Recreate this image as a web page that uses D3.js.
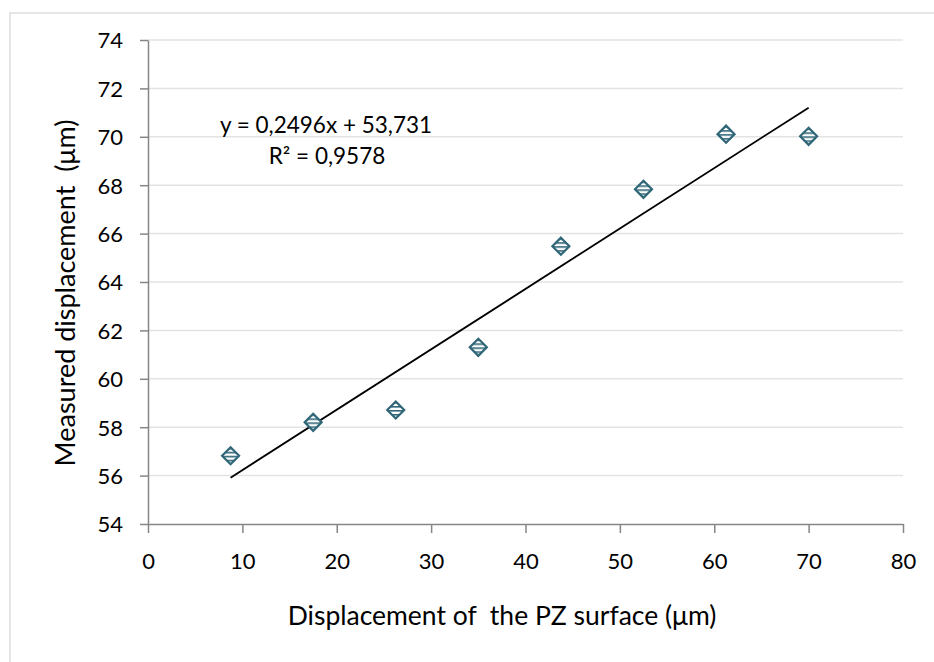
<!DOCTYPE html>
<html>
<head>
<meta charset="utf-8">
<script src="https://d3js.org/d3.v7.min.js"></script>
<style>
 body { margin: 0; background: #fff; }
 svg { display: block; font-family: Lato, "Open Sans", sans-serif; }
 text { white-space: pre; }
</style>
</head>
<body>
<svg width="934" height="662"></svg>
<script>
 // data
 const pzDisp = [8.75, 17.5, 26.25, 35, 43.75, 52.5, 61.25, 70];
 const measured = [56.82, 58.2, 58.71, 61.3, 65.48, 67.83, 70.11, 70.02];
 const xTicks = [0, 10, 20, 30, 40, 50, 60, 70, 80];
 const yTicks = [54, 56, 58, 60, 62, 64, 66, 68, 70, 72, 74];
 const trend = {slope: 0.2496, intercept: 53.731};
 const eqLines = ["y = 0,2496x + 53,731", "R² = 0,9578"];

 const svg = d3.select("svg");
 const margin = {top: 40, right: 31, bottom: 138, left: 148};
 const width = +svg.attr("width");
 const height = +svg.attr("height");
 const innerWidth = width - margin.left - margin.right;
 const innerHeight = height - margin.top - margin.bottom;

 const axisColor = "#868686";
 const gridColor = "#e3e3e3";
 const teal = "#2f6678";

 // outer chart border (right and bottom run off the picture)
 svg.append("path")
    .attr("d", "M10,662 V13 H934")
    .attr("fill", "none").attr("stroke", "#e6e6e6").attr("stroke-width", 2);

 // hatch for the diamonds
 const defs = svg.append("defs");
 const pat = defs.append("pattern")
    .attr("id", "hatch")
    .attr("patternUnits", "userSpaceOnUse")
    .attr("width", 6).attr("height", 4);
 pat.append("rect").attr("width", 6).attr("height", 4).attr("fill", "#fff");
 pat.append("rect").attr("y", 0).attr("width", 6).attr("height", 1.6).attr("fill", teal);

 const x = d3.scaleLinear().domain([0, 80]).range([0, innerWidth]);
 const y = d3.scaleLinear().domain([54, 74]).range([innerHeight, 0]);

 const g = svg.append("g").attr("transform", `translate(${margin.left},${margin.top})`);

 // gridlines
 g.append("g")
  .selectAll("line")
  .data(yTicks.slice(1))
  .join("line")
  .attr("x1", 0).attr("x2", innerWidth)
  .attr("y1", d => y(d)).attr("y2", d => y(d))
  .attr("stroke", gridColor).attr("stroke-width", 1.5);

 // x axis
 const xAxis = g.append("g")
  .attr("transform", `translate(0,${innerHeight})`)
  .call(d3.axisBottom(x).tickValues(xTicks).tickSize(9).tickPadding(20).tickSizeOuter(0));

 // y axis
 const yAxis = g.append("g")
  .call(d3.axisLeft(y).tickValues(yTicks).tickSize(8).tickPadding(17).tickSizeOuter(0));

 [xAxis, yAxis].forEach(a => {
   a.select(".domain").attr("stroke", axisColor).attr("stroke-width", 1.5);
   a.selectAll(".tick line").attr("stroke", axisColor).attr("stroke-width", 1.5);
   a.selectAll(".tick text").attr("fill", "#000").attr("font-size", 22)
    .attr("font-family", "Lato, sans-serif");
 });
 yAxis.selectAll(".tick text").attr("dy", "0.36em");

 // trendline over the data range
 const x0 = d3.min(pzDisp), x1 = d3.max(pzDisp);
 g.append("line")
  .attr("x1", x(x0)).attr("y1", y(trend.slope * x0 + trend.intercept))
  .attr("x2", x(x1)).attr("y2", y(trend.slope * x1 + trend.intercept))
  .attr("stroke", "#000").attr("stroke-width", 1.8);

 // markers
 const diamond = d3.symbol().type(d3.symbolDiamond2).size(185);
 g.selectAll(".pt")
  .data(pzDisp.map((d, i) => ({x: d, y: measured[i]})))
  .join("path")
  .attr("class", "pt")
  .attr("d", diamond)
  .attr("transform", d => `translate(${x(d.x)},${y(d.y)})`)
  .attr("fill", "url(#hatch)")
  .attr("stroke", teal).attr("stroke-width", 2.2);

 // equation label
 svg.append("text")
    .attr("x", 326).attr("y", 133)
    .attr("text-anchor", "middle").attr("font-size", 22.5)
    .text(eqLines[0]);
 svg.append("text")
    .attr("x", 327).attr("y", 164)
    .attr("text-anchor", "middle").attr("font-size", 22.5)
    .text(eqLines[1]);

 // axis titles
 svg.append("text")
    .attr("x", 502).attr("y", 625)
    .attr("text-anchor", "middle").attr("font-size", 26.5)
    .text("Displacement of  the PZ surface (μm)");

 svg.append("text")
    .attr("transform", "translate(75,293) rotate(-90)")
    .attr("text-anchor", "middle").attr("font-size", 27)
    .text("Measured displacement  (μm)");
</script>
</body>
</html>
